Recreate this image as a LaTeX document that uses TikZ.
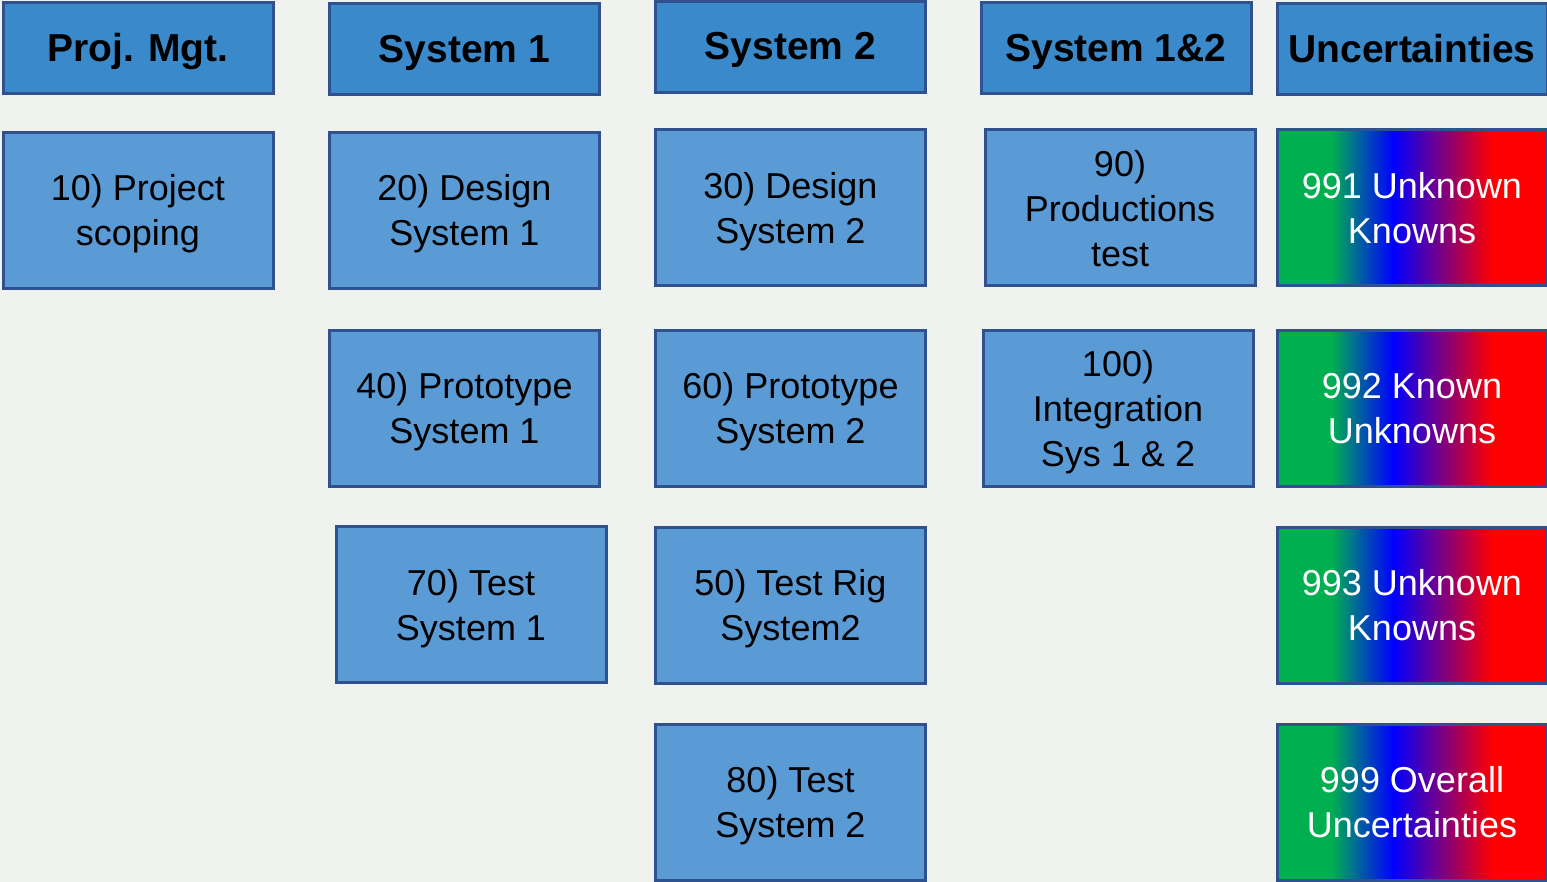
\documentclass[tikz,border=0pt]{standalone}
\usepackage{fontspec}
\setmainfont{Liberation Sans}
\definecolor{bg}{HTML}{F0F2F0}
\definecolor{hdrfill}{HTML}{3A8ACB}
\definecolor{boxfill}{HTML}{5B9BD5}
\definecolor{edge}{HTML}{2F528F}
\definecolor{ugreen}{HTML}{00B050}
\pgfdeclarehorizontalshading{unc}{100bp}{color(0bp)=(ugreen); color(35bp)=(ugreen); color(46.5bp)=(blue); color(65bp)=(red); color(100bp)=(red)}
\newcommand\mltext[2][-2pt]{\raisebox{#1}[\height][\depth]{\begin{tabular}{@{}c@{}}#2\end{tabular}}}
\tikzset{
  base/.style={draw=edge, line width=1.5pt, minimum width=135pt, inner sep=0pt},
  hdr/.style={base, fill=hdrfill, minimum height=45.5pt, font=\fontsize{19.5}{24}\selectfont\bfseries},
  task/.style={base, fill=boxfill, minimum height=78pt, font=\fontsize{18}{22.5}\selectfont},
  uncbox/.style={base, shading=unc, minimum height=78pt, text=white, font=\fontsize{18}{22.5}\selectfont}
}
\begin{document}
\begin{tikzpicture}[x=0.5pt, y=-0.5pt]
\fill[bg] (0,0) rectangle (1547,882);
\useasboundingbox (0,0) rectangle (1547,882);
\clip (0,0) rectangle (1547,882);
% headers
\node[hdr] (hpm) at (138,48.5) {\mltext[-1.5pt]{Proj. Mgt.}};
\node[hdr] (hs1) at (464.5,49.5) {\mltext[-1.5pt]{System 1}};
\node[hdr] (hs2) at (790.5,47) {\mltext[-1.5pt]{System 2}};
\node[hdr] (hs12) at (1116,48.5) {\mltext[-1.5pt]{System 1\&2}};
\node[hdr] (hunc) at (1412,49.5) {\mltext[-1.5pt]{Uncertainties}};
% tasks
\node[task] (t10) at (138,210.5) {\mltext{10) Project\\scoping}};
\node[task] (t20) at (464.5,210.5) {\mltext{20) Design\\System 1}};
\node[task] (t40) at (464.5,408) {\mltext{40) Prototype\\System 1}};
\node[task] (t70) at (471,604.5) {\mltext{70) Test\\System 1}};
\node[task] (t30) at (790.5,208) {\mltext{30) Design\\System 2}};
\node[task] (t60) at (790.5,408) {\mltext{60) Prototype\\System 2}};
\node[task] (t50) at (790.5,605) {\mltext{50) Test Rig\\System2}};
\node[task] (t80) at (790.5,802) {\mltext{80) Test\\System 2}};
\node[task] (t90) at (1120,208) {\mltext[-2.5pt]{90)\\Productions\\test}};
\node[task] (t100) at (1118,408) {\mltext{100)\\Integration\\Sys 1 \& 2}};
% uncertainties
\node[uncbox] (u991) at (1412,208) {\mltext{991 Unknown\\Knowns}};
\node[uncbox] (u992) at (1412,408) {\mltext{992 Known\\Unknowns}};
\node[uncbox] (u993) at (1412,605) {\mltext{993 Unknown\\Knowns}};
\node[uncbox] (u999) at (1412,802) {\mltext{999 Overall\\Uncertainties}};
\end{tikzpicture}
\end{document}
